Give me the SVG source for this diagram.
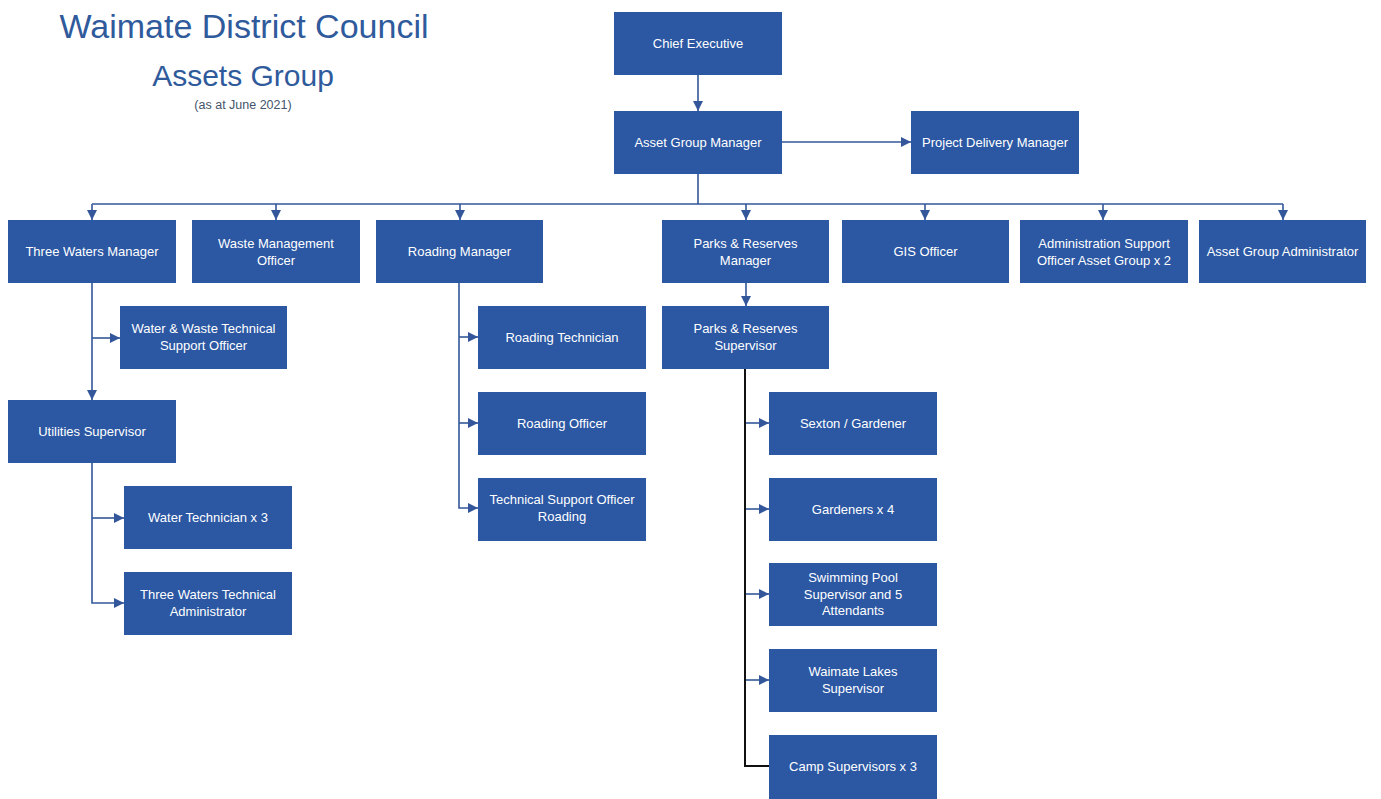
<svg xmlns="http://www.w3.org/2000/svg" width="1381" height="799" viewBox="0 0 1381 799">
<style>
.box{fill:#2b57a3}
.t{font-family:"Liberation Sans",Arial,sans-serif;font-size:13px;fill:#ffffff;text-anchor:middle}
.c{fill:none;stroke:#33579a;stroke-width:1.6}
.k{fill:none;stroke:#111111;stroke-width:2}
.title{font-family:"Liberation Sans",Arial,sans-serif;fill:#2f5a9c;text-anchor:middle}
</style>
<defs>
<marker id="ah" viewBox="0 0 10 10" refX="10" refY="5" markerWidth="10" markerHeight="10" markerUnits="userSpaceOnUse" orient="auto">
<path d="M0,0 L10,5 L0,10 Z" fill="#33579a"/>
</marker>
</defs>
<rect width="1381" height="799" fill="#ffffff"/>
<g id="title">
<text class="title" x="244" y="38" font-size="34">Waimate District Council</text>
<text class="title" x="243" y="86" font-size="30">Assets Group</text>
<text x="243" y="109" font-family="Liberation Sans,Arial,sans-serif" font-size="12.5" fill="#44546a" text-anchor="middle">(as at June 2021)</text>
</g>
<g id="connectors">
<path class="c" d="M698,75 V111" marker-end="url(#ah)"/>
<path class="c" d="M782,142 H911" marker-end="url(#ah)"/>
<path class="c" d="M698,174 V204 M92,204 H1283"/>
<path class="c" d="M92,204 V220" marker-end="url(#ah)"/>
<path class="c" d="M276,204 V220" marker-end="url(#ah)"/>
<path class="c" d="M460,204 V220" marker-end="url(#ah)"/>
<path class="c" d="M746,204 V220" marker-end="url(#ah)"/>
<path class="c" d="M925,204 V220" marker-end="url(#ah)"/>
<path class="c" d="M1103,204 V220" marker-end="url(#ah)"/>
<path class="c" d="M1283,204 V220" marker-end="url(#ah)"/>
<path class="c" d="M92,283 V400" marker-end="url(#ah)"/>
<path class="c" d="M92,338 H120" marker-end="url(#ah)"/>
<path class="c" d="M92,463 V603 H124" marker-end="url(#ah)"/>
<path class="c" d="M92,518 H124" marker-end="url(#ah)"/>
<path class="c" d="M459,283 V508 H478" marker-end="url(#ah)"/>
<path class="c" d="M459,337 H478" marker-end="url(#ah)"/>
<path class="c" d="M459,423 H478" marker-end="url(#ah)"/>
<path class="c" d="M746,283 V306" marker-end="url(#ah)"/>
<path class="k" d="M745,369 V766 H769"/>
<path class="c" d="M746,423 H769" marker-end="url(#ah)"/>
<path class="c" d="M746,509 H769" marker-end="url(#ah)"/>
<path class="c" d="M746,594 H769" marker-end="url(#ah)"/>
<path class="c" d="M746,680 H769" marker-end="url(#ah)"/>
</g>
<g id="chief-executive"><rect class="box" x="614" y="12" width="168" height="63"/><text class="t" x="698" y="48">Chief Executive</text></g>
<g id="asset-group-manager"><rect class="box" x="614" y="111" width="168" height="63"/><text class="t" x="698" y="147">Asset Group Manager</text></g>
<g id="project-delivery-manager"><rect class="box" x="911" y="111" width="168" height="63"/><text class="t" x="995" y="147">Project Delivery Manager</text></g>
<g id="three-waters-manager"><rect class="box" x="8" y="220" width="168" height="63"/><text class="t" x="92" y="256">Three Waters Manager</text></g>
<g id="waste-management-officer"><rect class="box" x="192" y="220" width="168" height="63"/><text class="t" x="276" y="248">Waste Management</text><text class="t" x="276" y="264.5">Officer</text></g>
<g id="roading-manager"><rect class="box" x="376" y="220" width="167" height="63"/><text class="t" x="459.5" y="256">Roading Manager</text></g>
<g id="parks-reserves-manager"><rect class="box" x="662" y="220" width="167" height="63"/><text class="t" x="745.5" y="248">Parks &amp; Reserves</text><text class="t" x="745.5" y="264.5">Manager</text></g>
<g id="gis-officer"><rect class="box" x="842" y="220" width="167" height="63"/><text class="t" x="925.5" y="256">GIS Officer</text></g>
<g id="admin-support-officer"><rect class="box" x="1020" y="220" width="168" height="63"/><text class="t" x="1104" y="248">Administration Support</text><text class="t" x="1104" y="264.5">Officer Asset Group x 2</text></g>
<g id="asset-group-administrator"><rect class="box" x="1199" y="220" width="167" height="63"/><text class="t" x="1282.5" y="256">Asset Group Administrator</text></g>
<g id="water-waste-tso"><rect class="box" x="120" y="306" width="167" height="63"/><text class="t" x="203.5" y="333">Water &amp; Waste Technical</text><text class="t" x="203.5" y="349.5">Support Officer</text></g>
<g id="utilities-supervisor"><rect class="box" x="8" y="400" width="168" height="63"/><text class="t" x="92" y="436">Utilities Supervisor</text></g>
<g id="water-technician"><rect class="box" x="124" y="486" width="168" height="63"/><text class="t" x="208" y="522">Water Technician x 3</text></g>
<g id="three-waters-tech-admin"><rect class="box" x="124" y="572" width="168" height="63"/><text class="t" x="208" y="599">Three Waters Technical</text><text class="t" x="208" y="615.5">Administrator</text></g>
<g id="roading-technician"><rect class="box" x="478" y="306" width="168" height="63"/><text class="t" x="562" y="342">Roading Technician</text></g>
<g id="roading-officer"><rect class="box" x="478" y="392" width="168" height="63"/><text class="t" x="562" y="428">Roading Officer</text></g>
<g id="tso-roading"><rect class="box" x="478" y="478" width="168" height="63"/><text class="t" x="562" y="504">Technical Support Officer</text><text class="t" x="562" y="520.5">Roading</text></g>
<g id="parks-reserves-supervisor"><rect class="box" x="662" y="306" width="167" height="63"/><text class="t" x="745.5" y="333">Parks &amp; Reserves</text><text class="t" x="745.5" y="349.5">Supervisor</text></g>
<g id="sexton-gardener"><rect class="box" x="769" y="392" width="168" height="63"/><text class="t" x="853" y="428">Sexton / Gardener</text></g>
<g id="gardeners"><rect class="box" x="769" y="478" width="168" height="63"/><text class="t" x="853" y="514">Gardeners x 4</text></g>
<g id="swimming-pool"><rect class="box" x="769" y="563" width="168" height="63"/><text class="t" x="853" y="582">Swimming Pool</text><text class="t" x="853" y="598.5">Supervisor and 5</text><text class="t" x="853" y="615">Attendants</text></g>
<g id="waimate-lakes"><rect class="box" x="769" y="649" width="168" height="63"/><text class="t" x="853" y="676">Waimate Lakes</text><text class="t" x="853" y="692.5">Supervisor</text></g>
<g id="camp-supervisors"><rect class="box" x="769" y="735" width="168" height="64"/><text class="t" x="853" y="771">Camp Supervisors x 3</text></g>
</svg>
